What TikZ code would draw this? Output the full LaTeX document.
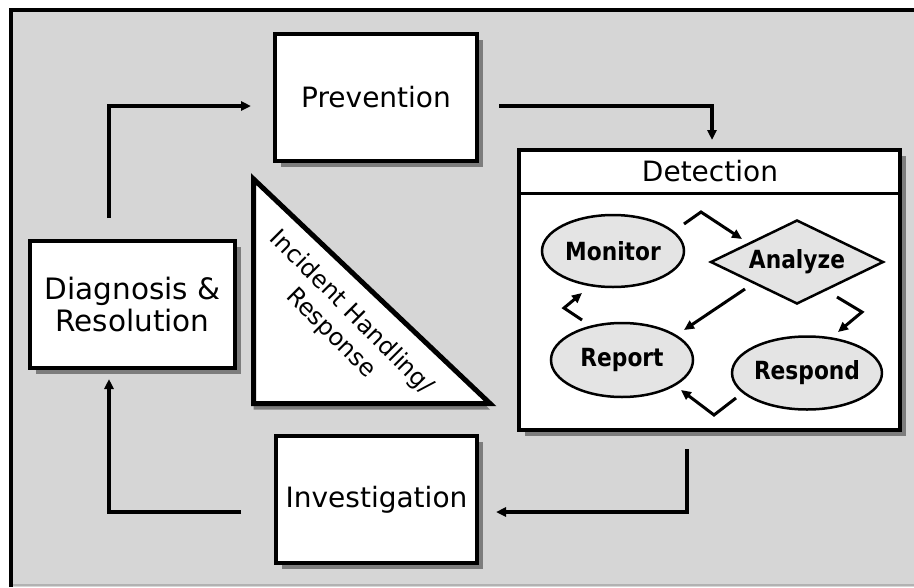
\documentclass[tikz,border=0pt]{standalone}
\usepackage{fontspec}
\setmainfont{DejaVu Sans}
\newfontfamily\cyclefont[FakeStretch=0.87]{DejaVu Sans}
\usetikzlibrary{calc,shapes.geometric,arrows.meta,shadows}

\definecolor{paper}{RGB}{214,214,214}
\definecolor{shade}{RGB}{125,125,125}
\definecolor{bubblefill}{RGB}{228,228,228}

\begin{document}
\begin{tikzpicture}[x=1pt,y=-1pt,
  boxshadow/.style={drop shadow={shadow xshift=6pt, shadow yshift=-6pt, fill=shade, opacity=1}},
  box/.style={draw, line width=4pt, fill=white, inner sep=0pt, minimum height=127pt,
              align=center, boxshadow, font=\fontsize{28}{32}\selectfont},
  cycletext/.style={font=\cyclefont\bfseries\fontsize{25}{28}\selectfont},
  bubble/.style={ellipse, draw, line width=2.5pt, fill=bubblefill, inner sep=0pt, cycletext},
  flow/.style={line width=3.5pt, -{Triangle[length=10pt,width=9pt]}},
  loopflow/.style={line width=3pt, -{Triangle[length=10pt,width=9pt]}}
]
\useasboundingbox (0,0) rectangle (914,587);

% background panel and frame
\fill[paper] (11,10) rectangle (914,587);
\draw[gray!60, line width=1.5pt] (11,585) -- (914,585);
\draw[line width=4pt] (11,587) -- (11,10) -- (914,10);

% the four phases
\node[box, minimum width=202pt] (prev) at (376,97.5) {Prevention};
\node[box, minimum width=205pt, font=\fontsize{29.5}{32}\selectfont] (diag) at (132.5,304.5) {Diagnosis \&\\Resolution};
\node[box, minimum width=201pt] (inv) at (376.5,499.5) {Investigation};
\node[box, minimum width=381pt, minimum height=280pt] (det) at (709.5,290) {};

% detection title bar
\coordinate (divy) at (0,193);
\draw[line width=3pt] (det.west |- divy) -- (det.east |- divy);
\node[font=\fontsize{28}{32}\selectfont] (dettitle) at (710,171) {Detection};

% central triangle
\draw[line width=5pt, fill=white, line join=miter,
      drop shadow={shadow xshift=0pt, shadow yshift=-6pt, fill=shade, opacity=1}]
  (253.5,179) -- (253.5,403.5) -- (490,403.5) -- cycle;
\node[rotate=-45, align=center, font=\fontsize{24}{29}\selectfont] (tri) at (341,323)
  {Incident Handling/\\Response};

% detection cycle
\node[bubble, minimum width=142pt, minimum height=72pt] (mon) at (613,251) {Monitor};
\node[diamond, draw, line width=2.5pt, fill=bubblefill, inner sep=0pt, aspect=2,
      minimum width=173pt, minimum height=84pt, cycletext] (ana) at (797,262) {Analyze};
\node[bubble, minimum width=142pt, minimum height=74pt] (rep) at (622,360) {Report};
\node[bubble, minimum width=140pt, minimum height=73pt] (res) at (807,373) {Respond};

\draw[loopflow] ($(mon.center)+(71,-27)$) -- ($(mon.center)+(88,-39)$) -- ($(ana.center)+(-55,-23)$);
\draw[loopflow] ($(ana.center)+(-52,27)$) -- ($(rep.center)+(62,-30)$);
\draw[loopflow] ($(ana.center)+(40,35)$) -- ($(ana.center)+(65,50)$) -- ($(res.center)+(31,-41)$);
\draw[loopflow] ($(res.center)+(-71,25)$) -- ($(res.center)+(-93,42)$) -- ($(rep.center)+(59,30)$);
\draw[loopflow] ($(rep.center)+(-40,-40)$) -- ($(rep.center)+(-58,-52)$) -- ($(mon.center)+(-31,42)$);

% outer cycle
\draw[flow] ($(diag.north)+(-23.5,-21)$) |- ($(prev.west)+(-22,8.5)$);
\draw[flow] ($(prev.east)+(20,8.5)$) -| ($(det.north)+(2.5,-8)$);
\draw[flow] ($(det.south)+(-22.5,17)$) |- ($(inv.east)+(17,12.5)$);
\draw[flow] ($(inv.west)+(-33,12.5)$) -| ($(diag.south)+(-23.5,9)$);
\end{tikzpicture}
\end{document}
